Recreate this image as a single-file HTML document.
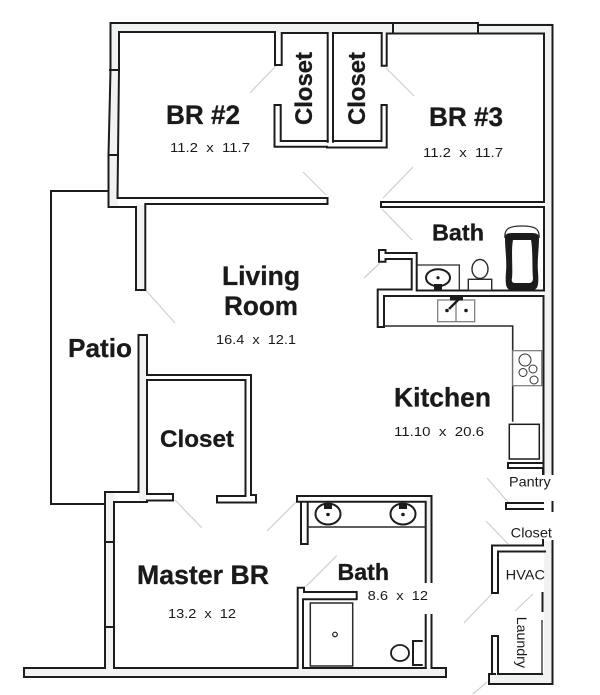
<!DOCTYPE html>
<html>
<head>
<meta charset="utf-8">
<style>
html,body{margin:0;padding:0;background:#fff;width:600px;height:695px;overflow:hidden}
svg{display:block}
text{font-family:"Liberation Sans",sans-serif;fill:#1a1a1a;white-space:pre}
.b{font-weight:700;stroke:#1a1a1a;stroke-width:.3}
.d{stroke:#cfcfcf;stroke-width:1.2;fill:none}
.w{stroke:#1c1c1c;stroke-width:2;fill:none;stroke-linecap:square}
.t{stroke:#2a2a2a;stroke-width:1.3;fill:none}
.g{stroke:#777;stroke-width:1.2;fill:#fff}
.tint{fill:#f0f3f1}
</style>
</head>
<body>
<svg width="600" height="695" viewBox="0 0 600 695" xmlns="http://www.w3.org/2000/svg">
<rect width="600" height="695" fill="#fff"/>
<!-- wall tint -->
<rect class="tint" x="110" y="23" width="443" height="10"/>
<rect class="tint" x="544" y="25" width="8" height="449"/>
<rect class="tint" x="109" y="33" width="9" height="174"/>
<rect class="tint" x="136" y="205" width="9" height="85"/>
<rect class="tint" x="139" y="335" width="8" height="165"/>
<rect class="tint" x="105" y="492" width="9" height="180"/>
<rect class="tint" x="24" y="668" width="422" height="9"/>
<rect class="tint" x="489" y="674" width="63" height="9"/>
<rect class="tint" x="544" y="541" width="8" height="135"/>
<rect class="tint" x="426" y="496" width="5" height="86"/>

<!-- door swing diagonals -->
<path class="d" d="M276.700,65L250,93M145.500,290L175,323M386,68L414,96M413,167L383,198M303,172L326,195M382,209L412,240M380,263L364,278M175,500L201.700,527.700M296,502L267,531M305.700,586.700L336.700,555.700M487,478L508,502M486,521L508,544M491.700,594L464,623M533,594L515,611M487,682L473,694"/>

<!-- patio -->
<path class="w" d="M108,191H51V504H105"/>
<!-- BR2 left and top -->
<path class="w" d="M108.500,207V155L110.500,70V23H478"/>
<path class="w" d="M117.500,198L119,70V32H275V65H281.700V33H327.700V141.700"/>
<path class="w" d="M110,70H119M109,155H118"/>
<path class="w" d="M108.500,207H136V290H145.300V204H327.500V198H117.500"/>
<!-- closets -->
<path class="w" d="M333,141.700V33H381.700V65.700H386.700V33.500H544"/>
<path class="w" d="M393,24V33M478,25V33M478,25H552.500"/>
<path class="w" d="M274.500,105H280.700V141H327.700M274.500,105V146.700H327M327,147.500H386.700V105H381.500V141H333"/>
<!-- right walls -->
<path class="w" d="M552.500,25V474M552.500,502V511M552.500,541V684H489V674H495M492,674V636H498V674H542"/>
<path class="w" d="M544,34V202H381V207H544V290.500M543.500,296V474"/>
<path class="t" d="M542,620V674"/>
<path class="w" d="M542.500,593V611"/>
<!-- bath partition -->
<path class="w" d="M416.700,290.500H543.500M416.700,290.500V253H385.500V250H379V261.700H385.500V259H411.700V289.500H377.700V327H384V296H543.500"/>
<path class="t" d="M384,326H512.700V421.700" style="stroke-width:1.6"/>
<!-- tub -->
<path d="M505,238C505,232 510,233 522,233C534,233 539,232 539,238C539,250 537,260 538,272C539,285 538,290 532,290L512,290C506,290 505,285 506,272C507,260 505,250 505,238Z" fill="#1c1c1c"/>
<path d="M513,240L531,240C533,250 532,270 533,278C533,282 531,283 529,283L515,283C513,283 511,282 512,278C513,270 511,250 513,240Z" fill="#fff"/>
<path class="t" d="M505,238C504,228 510,226 522,226C534,226 540,228 539,238"/>
<!-- sink bath -->
<path class="t" d="M416.700,265H459.300V290"/>
<ellipse cx="438" cy="277.700" rx="12" ry="8.500" fill="#fff" stroke="#1c1c1c" stroke-width="2"/>
<circle cx="438" cy="277.700" r="1.600" fill="#1c1c1c"/>
<rect x="434" y="284" width="8" height="6" fill="#1c1c1c"/>
<!-- toilet -->
<ellipse cx="480" cy="269" rx="8" ry="9.500" fill="#fff" stroke="#2a2a2a" stroke-width="1.400"/>
<rect x="468.300" y="279.300" width="23.400" height="11" fill="#fff" stroke="#2a2a2a" stroke-width="1.400"/>
<!-- kitchen sink -->
<rect class="g" x="437.700" y="300" width="37" height="21.700"/>
<path d="M456,300V321.700" stroke="#777" stroke-width="1.200"/>
<circle cx="447" cy="310.500" r="1.800" fill="#1c1c1c"/>
<circle cx="466" cy="310.500" r="1.800" fill="#1c1c1c"/>
<rect x="450" y="296" width="13" height="4.500" fill="#1c1c1c"/>
<path d="M459,299L449,309" stroke="#1c1c1c" stroke-width="2.400"/>
<!-- stove -->
<rect class="g" x="512.700" y="350.700" width="29" height="35"/>
<circle cx="525" cy="360" r="6" fill="none" stroke="#333" stroke-width="1"/>
<circle cx="533" cy="369" r="4" fill="none" stroke="#333" stroke-width="1"/>
<circle cx="523" cy="372.500" r="4" fill="none" stroke="#333" stroke-width="1"/>
<circle cx="534" cy="380" r="4" fill="none" stroke="#333" stroke-width="1"/>
<!-- fridge -->
<rect x="509.300" y="424.300" width="30" height="34.700" fill="#fff" stroke="#1c1c1c" stroke-width="1.500"/>
<!-- pantry -->
<path class="w" d="M543,474V468H508V463H543"/>
<path class="w" d="M543,503H506V509H543"/>
<!-- hvac -->
<path class="w" d="M543,540V545.500H492V593H498V551.500H545"/>
<!-- patio wall & lower-left -->
<path class="w" d="M138.500,492V335H147V375H251V495H256V502.500H217V496H245.500V380H147V494H173V500.500H147V502H114V668H297.700V587.700H304V592H356.700V599.300H303V668H425.700"/>
<path class="w" d="M138.500,492H105V668H24V677H446V668H431.500V615M431.500,582V496H297V501.700H425.700V582M425.700,615V668"/>
<path class="w" d="M105,542H114M105,627H114"/>
<path class="w" d="M307.700,502V544H301V502"/>
<path class="t" d="M307,527H426" style="stroke-width:1.600"/>
<!-- vanity sinks -->
<ellipse cx="328" cy="514" rx="12.500" ry="10.500" fill="#fff" stroke="#1c1c1c" stroke-width="2"/>
<circle cx="328" cy="514.500" r="1.800" fill="#1c1c1c"/>
<rect x="324" y="503" width="8" height="6" fill="#1c1c1c"/>
<ellipse cx="403" cy="514" rx="12.500" ry="10.500" fill="#fff" stroke="#1c1c1c" stroke-width="2"/>
<circle cx="403" cy="514.500" r="1.800" fill="#1c1c1c"/>
<rect x="399" y="503" width="8" height="6" fill="#1c1c1c"/>
<!-- shower -->
<rect x="310.300" y="603" width="42.400" height="63" fill="#fff" stroke="#2a2a2a" stroke-width="1.500"/>
<circle cx="335" cy="634.500" r="2.300" fill="none" stroke="#1c1c1c" stroke-width="1.200"/>
<!-- master toilet -->
<ellipse cx="400" cy="653" rx="9" ry="8" fill="#fff" stroke="#1c1c1c" stroke-width="1.800"/>
<path class="w" d="M421.700,641H413V665H421.700"/>

<!-- labels -->
<text class="b" x="166" y="124" font-size="26.500" textLength="74" lengthAdjust="spacingAndGlyphs">BR #2</text>
<text x="170" y="152" font-size="13" textLength="80" lengthAdjust="spacingAndGlyphs">11.2  x  11.7</text>
<text class="b" x="429" y="126" font-size="26.500" textLength="74" lengthAdjust="spacingAndGlyphs">BR #3</text>
<text x="423" y="157" font-size="13" textLength="80" lengthAdjust="spacingAndGlyphs">11.2  x  11.7</text>
<text class="b" x="222" y="285" font-size="26.500" textLength="78" lengthAdjust="spacingAndGlyphs">Living</text>
<text class="b" x="224" y="315" font-size="26.500" textLength="74" lengthAdjust="spacingAndGlyphs">Room</text>
<text x="216" y="344" font-size="13" textLength="80" lengthAdjust="spacingAndGlyphs">16.4  x  12.1</text>
<text class="b" x="68" y="357" font-size="26" textLength="64" lengthAdjust="spacingAndGlyphs">Patio</text>
<text class="b" x="160" y="447" font-size="24" textLength="74" lengthAdjust="spacingAndGlyphs">Closet</text>
<text class="b" x="137" y="584" font-size="26.500" textLength="132" lengthAdjust="spacingAndGlyphs">Master BR</text>
<text x="168" y="618" font-size="13" textLength="68" lengthAdjust="spacingAndGlyphs">13.2  x  12</text>
<text class="b" x="337.500" y="580" font-size="23" textLength="51.500" lengthAdjust="spacingAndGlyphs">Bath</text>
<text x="367.700" y="600" font-size="13" textLength="60.300" lengthAdjust="spacingAndGlyphs">8.6  x  12</text>
<text class="b" x="394" y="406.700" font-size="26.500" textLength="97" lengthAdjust="spacingAndGlyphs">Kitchen</text>
<text x="394" y="436" font-size="13" textLength="90" lengthAdjust="spacingAndGlyphs">11.10  x  20.6</text>
<text class="b" x="432" y="240.700" font-size="23" textLength="52" lengthAdjust="spacingAndGlyphs">Bath</text>
<text class="b" transform="translate(312,125) rotate(-90)" font-size="24" textLength="73" lengthAdjust="spacingAndGlyphs">Closet</text>
<text class="b" transform="translate(365,125) rotate(-90)" font-size="24" textLength="73" lengthAdjust="spacingAndGlyphs">Closet</text>
<text x="509" y="486.700" font-size="14" textLength="41.700" lengthAdjust="spacingAndGlyphs">Pantry</text>
<text x="510.700" y="537.700" font-size="14" textLength="41.300" lengthAdjust="spacingAndGlyphs">Closet</text>
<text x="505.700" y="579.300" font-size="14" textLength="39.300" lengthAdjust="spacingAndGlyphs">HVAC</text>
<text transform="translate(517,616.700) rotate(90)" font-size="14" textLength="51.300" lengthAdjust="spacingAndGlyphs">Laundry</text>
</svg>
</body>
</html>
